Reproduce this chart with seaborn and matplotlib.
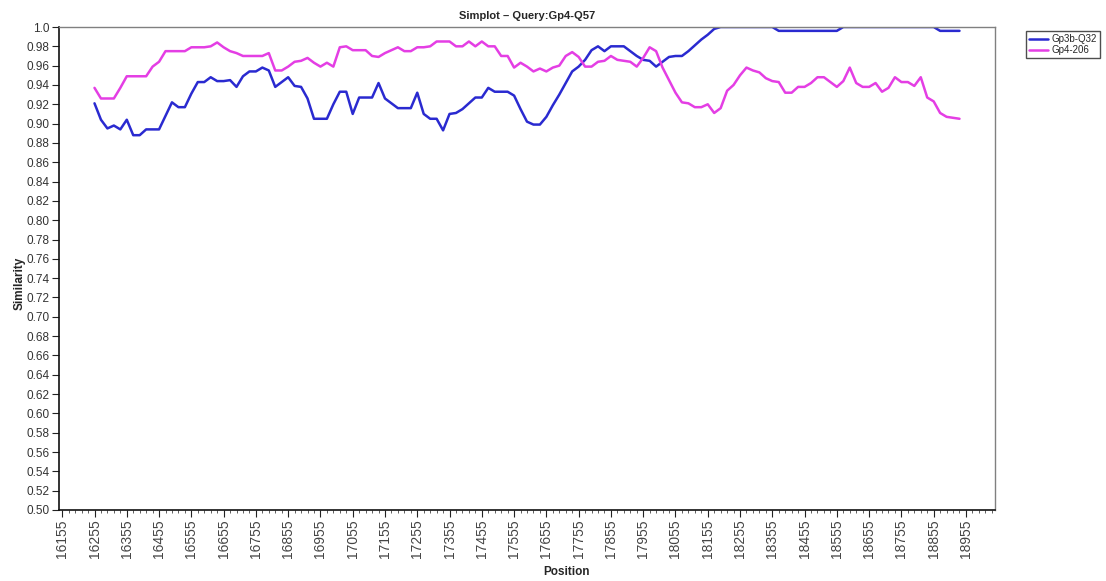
import numpy as np
import pandas as pd
import seaborn as sns
import matplotlib.pyplot as plt
from matplotlib.ticker import FixedLocator

# window midpoints, step 20 bp
positions = np.arange(16255, 18936, 20)

gp3b_q32 = [
    0.921, 0.904, 0.895, 0.898, 0.894, 0.904, 0.888, 0.888, 0.894, 0.894,
    0.894, 0.908, 0.922, 0.917, 0.917, 0.931, 0.943, 0.943, 0.948, 0.944,
    0.944, 0.945, 0.938, 0.949, 0.954, 0.954, 0.958, 0.955, 0.938, 0.943,
    0.948, 0.939, 0.938, 0.926, 0.905, 0.905, 0.905, 0.920, 0.933, 0.933,
    0.910, 0.927, 0.927, 0.927, 0.942, 0.926, 0.921, 0.916, 0.916, 0.916,
    0.932, 0.910, 0.905, 0.905, 0.893, 0.910, 0.911, 0.915, 0.921, 0.927,
    0.927, 0.937, 0.933, 0.933, 0.933, 0.929, 0.915, 0.902, 0.899, 0.899,
    0.907, 0.919, 0.930, 0.942, 0.954, 0.959, 0.966, 0.976, 0.980, 0.975,
    0.980, 0.980, 0.980, 0.975, 0.970, 0.966, 0.965, 0.959, 0.964, 0.969,
    0.970, 0.970, 0.975, 0.981, 0.987, 0.992, 0.998, 1.000, 1.000, 1.000,
    1.000, 1.000, 1.000, 1.000, 1.000, 1.000, 0.996, 0.996, 0.996, 0.996,
    0.996, 0.996, 0.996, 0.996, 0.996, 0.996, 1.000, 1.000, 1.000, 1.000,
    1.000, 1.000, 1.000, 1.000, 1.000, 1.000, 1.000, 1.000, 1.000, 1.000,
    1.000, 0.996, 0.996, 0.996, 0.996,
]

gp4_206 = [
    0.937, 0.926, 0.926, 0.926, 0.937, 0.949, 0.949, 0.949, 0.949, 0.959,
    0.964, 0.975, 0.975, 0.975, 0.975, 0.979, 0.979, 0.979, 0.980, 0.984,
    0.979, 0.975, 0.973, 0.970, 0.970, 0.970, 0.970, 0.973, 0.955, 0.955,
    0.959, 0.964, 0.965, 0.968, 0.963, 0.959, 0.963, 0.959, 0.979, 0.980,
    0.976, 0.976, 0.976, 0.970, 0.969, 0.973, 0.976, 0.979, 0.975, 0.975,
    0.979, 0.979, 0.980, 0.985, 0.985, 0.985, 0.980, 0.980, 0.985, 0.980,
    0.985, 0.980, 0.980, 0.970, 0.970, 0.958, 0.963, 0.959, 0.954, 0.957,
    0.954, 0.958, 0.960, 0.970, 0.974, 0.969, 0.959, 0.959, 0.964, 0.965,
    0.970, 0.966, 0.965, 0.964, 0.959, 0.968, 0.979, 0.975, 0.958, 0.945,
    0.932, 0.922, 0.921, 0.917, 0.917, 0.920, 0.911, 0.916, 0.934, 0.940,
    0.950, 0.958, 0.955, 0.953, 0.947, 0.944, 0.943, 0.932, 0.932, 0.938,
    0.938, 0.942, 0.948, 0.948, 0.943, 0.938, 0.944, 0.958, 0.942, 0.938,
    0.938, 0.942, 0.933, 0.937, 0.948, 0.943, 0.943, 0.939, 0.948, 0.927,
    0.923, 0.911, 0.907, 0.906, 0.905,
]

series_names = ['Gp3b-Q32', 'Gp4-206']
series_colors = ['#2a2ad0', '#e43ee4']

x_ticks = np.arange(16155, 18956, 100)
y_ticks = np.round(np.arange(0.50, 1.001, 0.02), 2)
y_ticklabels = ['%.2f' % v for v in y_ticks[:-1]] + ['1.0']

df = pd.DataFrame({
    'Position': np.concatenate([positions, positions]),
    'Similarity': gp3b_q32 + gp4_206,
    'series': [series_names[0]] * len(positions) + [series_names[1]] * len(positions),
})

sns.set_style('white')
plt.rcParams['font.family'] = ['Liberation Sans', 'DejaVu Sans']

fig = plt.figure(figsize=(11.06, 5.81), dpi=100)
ax = fig.add_axes([59 / 1106, 1 - 510 / 581, 936 / 1106, 483 / 581])

sns.lineplot(data=df, x='Position', y='Similarity', hue='series',
             hue_order=series_names, palette=series_colors, linewidth=1.8,
             ax=ax, legend=False)

ax.set_xlim(16145, 19045)
ax.set_ylim(0.5, 1.0)
ax.set_yticks(y_ticks)
ax.set_yticklabels(y_ticklabels, fontsize=8.5, color='#333333')
ax.set_xticks(x_ticks)
ax.set_xticklabels([str(t) for t in x_ticks], rotation=90, fontsize=10, color='#444444')
ax.xaxis.set_minor_locator(FixedLocator(np.arange(16155, 19045, 20)))
ax.tick_params(axis='both', which='major', direction='out', length=5, width=0.8,
               color='#222222', left=True, bottom=True, pad=2)
ax.tick_params(axis='x', which='minor', direction='out', length=2.5, width=0.6,
               color='#444444', bottom=True)

for side in ['left', 'bottom']:
    ax.spines[side].set_color('#111111')
    ax.spines[side].set_linewidth(1.2)
for side in ['top', 'right']:
    ax.spines[side].set_color('#808080')
    ax.spines[side].set_linewidth(1.0)

ax.set_title('Simplot \u2013 Query:Gp4-Q57', fontsize=8, fontweight='bold', pad=6)
ax.set_xlabel('Position', fontsize=8.5, fontweight='bold')
ax.set_ylabel('Similarity', fontsize=8.5, fontweight='bold')
ax.xaxis.set_label_coords((567 - 59) / 936, -0.116)
ax.yaxis.set_label_coords(-0.036, 0.47)

handles = ax.get_lines()[:2]
fig.legend(handles, series_names, loc='upper left',
           bbox_to_anchor=(1026 / 1106, 1 - 31 / 581), fontsize=7,
           frameon=True, fancybox=False, edgecolor='#222222',
           handlelength=2.0, handletextpad=0.3, borderpad=0.3,
           labelspacing=0.15, borderaxespad=0)

fig.savefig('out.png', dpi=100, facecolor='white')
plt.close()
